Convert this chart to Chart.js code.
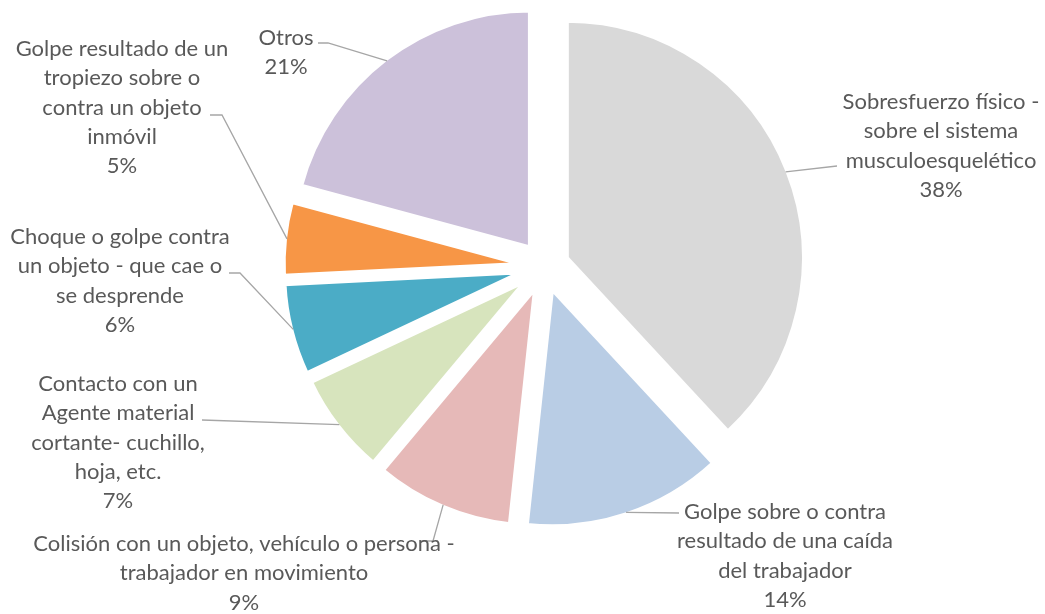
<!DOCTYPE html>
<html lang="es">
<head>
<meta charset="utf-8">
<title>Accidentes por forma</title>
<script src="https://cdn.jsdelivr.net/npm/chart.js@4.4.1/dist/chart.umd.min.js"></script>
<style>
  html, body { margin: 0; padding: 0; background: #ffffff; }
  #grafico { display: block; }
</style>
</head>
<body>
<canvas id="grafico" width="1045" height="614"></canvas>
<script>
// Categorías (con saltos de línea como en el original)
const categorias = [
  ["Sobresfuerzo físico -", "sobre el sistema", "musculoesquelético"],
  ["Golpe sobre o contra", "resultado de una caída", "del trabajador"],
  ["Colisión con un objeto, vehículo o persona -", "trabajador en movimiento"],
  ["Contacto con un", "Agente material", "cortante- cuchillo,", "hoja, etc."],
  ["Choque o golpe contra", "un objeto - que cae o", "se desprende"],
  ["Golpe resultado de un", "tropiezo sobre o", "contra un objeto", "inmóvil"],
  ["Otros"]
];

const valores = [38.1, 13.6, 9.4, 6.9, 6.2, 5.0, 20.8];

const colores = ["#D9D9D9", "#B9CDE5", "#E6B9B8", "#D7E4BD", "#4BACC6", "#F79646", "#CCC1DA"];

// Ubicación de cada etiqueta (centro de la primera línea) y de su línea guía
const posEtiquetas = [
  { x: 941, y: 102, codo: null, fin: [837, 166] },
  { x: 785, y: 512, codo: null, fin: [679, 513] },
  { x: 244, y: 544, codo: [433, 541], fin: [421, 541] },
  { x: 118, y: 384, codo: null, fin: [202, 420] },
  { x: 120, y: 237, codo: [240, 273], fin: [229, 273] },
  { x: 122, y: 49, codo: [222, 115], fin: [210, 115] },
  { x: 286, y: 38, codo: [328, 43], fin: [318, 43] }
];

const RADIO = 237;      // radio de la torta
const SEPARACION = 24;  // desplazamiento de cada porción
const BORDE = 4;
const ALTO_LINEA = 29.3;

// Separa cada porción del centro (efecto "explotado")
const explotar = {
  id: "explotar",
  afterDatasetUpdate(chart, args) {
    const area = chart.chartArea;
    const cx = (area.left + area.right) / 2;
    const cy = (area.top + area.bottom) / 2;
    args.meta.data.forEach((arc) => {
      const medio = (arc.startAngle + arc.endAngle) / 2;
      arc.x = cx + Math.cos(medio) * SEPARACION;
      arc.y = cy + Math.sin(medio) * SEPARACION;
    });
  }
};

// Etiquetas con líneas guía
const etiquetas = {
  id: "etiquetas",
  afterDatasetsDraw(chart) {
    const ctx = chart.ctx;
    const meta = chart.getDatasetMeta(0);
    const total = valores.reduce((a, b) => a + b, 0);
    ctx.save();
    meta.data.forEach((arc, i) => {
      const p = posEtiquetas[i];
      const medio = (arc.startAngle + arc.endAngle) / 2;
      const r = arc.outerRadius - BORDE / 2;
      const bx = arc.x + Math.cos(medio) * r;
      const by = arc.y + Math.sin(medio) * r;

      ctx.strokeStyle = "#A6A6A6";
      ctx.lineWidth = 1.3;
      ctx.beginPath();
      ctx.moveTo(bx, by);
      if (p.codo) ctx.lineTo(p.codo[0], p.codo[1]);
      ctx.lineTo(p.fin[0], p.fin[1]);
      ctx.stroke();

      const lineas = categorias[i].concat([Math.round(valores[i] / total * 100) + "%"]);
      ctx.fillStyle = "#595959";
      ctx.font = "22px Lato";
      ctx.textAlign = "center";
      ctx.textBaseline = "middle";
      lineas.forEach((t, k) => {
        ctx.fillText(t, p.x, p.y + k * ALTO_LINEA);
      });
    });
    ctx.restore();
  }
};

new Chart(document.getElementById("grafico").getContext("2d"), {
  type: "pie",
  data: {
    labels: categorias.map((c) => c.join(" ")),
    datasets: [
      {
        data: valores,
        backgroundColor: colores,
        borderColor: "#ffffff",
        borderWidth: BORDE,
      },
    ],
  },
  options: {
    responsive: false,
    animation: false,
    radius: RADIO,
    layout: { padding: { left: 44, right: 0, top: 0, bottom: 81 } },
    plugins: {
      legend: { display: false },
      tooltip: { enabled: false },
    },
  },
  plugins: [explotar, etiquetas],
});
</script>
</body>
</html>
